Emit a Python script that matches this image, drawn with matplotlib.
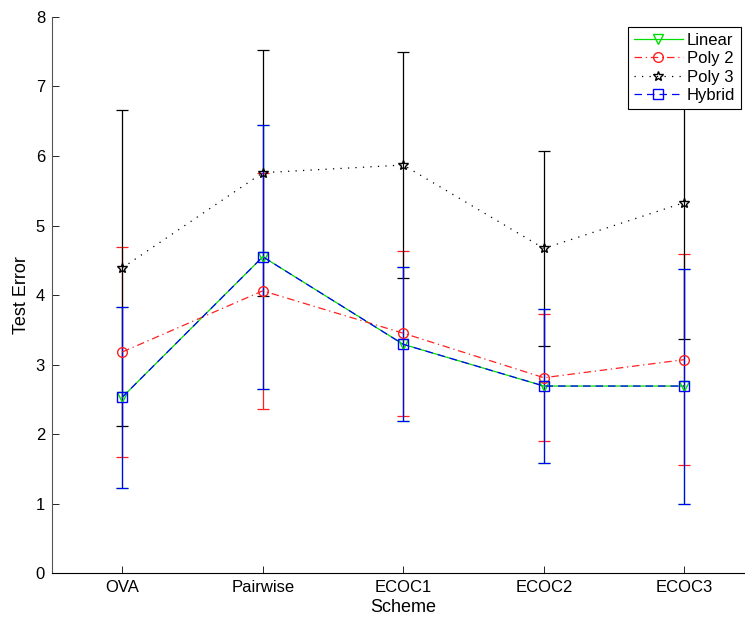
import matplotlib
matplotlib.use("Agg")
import matplotlib.pyplot as plt

plt.rcParams.update({
    "font.family": ["Liberation Sans", "DejaVu Sans"],
    "font.size": 12,
    "xtick.direction": "in", "ytick.direction": "in",
})

# Test error per coding scheme (mean and half-width of the error bar)
SCHEMES = ["OVA", "Pairwise", "ECOC1", "ECOC2", "ECOC3"]
X = [1, 2, 3, 4, 5]

linear_mean = [2.53, 4.55, 3.29, 2.69, 2.69]
linear_err  = [1.30, 1.90, 1.11, 1.11, 1.69]

poly2_mean = [3.18, 4.06, 3.45, 2.81, 3.07]
poly2_err  = [1.51, 1.70, 1.19, 0.91, 1.52]

poly3_mean = [4.39, 5.76, 5.87, 4.67, 5.33]
poly3_err  = [2.27, 1.77, 1.63, 1.40, 1.96]

hybrid_mean = [2.53, 4.55, 3.29, 2.69, 2.69]
hybrid_err  = [1.30, 1.90, 1.11, 1.11, 1.69]

fig = plt.figure(figsize=(7.45, 6.18), dpi=100)
ax = fig.add_axes([0.0698, 0.0728, 0.9432, 0.8997])

common = dict(capsize=4.3, elinewidth=0.9, linewidth=0.9, markersize=7,
              markerfacecolor="none", capthick=0.9)

series = [
    (linear_mean, linear_err, "v", "#00dd00", (None,), "Linear"),
    (poly2_mean, poly2_err, "o", "#ff2020", (6, 3, 1, 3), "Poly 2"),
    (poly3_mean, poly3_err, "*", "black", (1, 5), "Poly 3"),
    (hybrid_mean, hybrid_err, "s", "#0000ff", (6, 4), "Hybrid"),
]

handles = []
for mean, err, mk, col, dash, lab in series:
    cont = ax.errorbar(X, mean, yerr=err, fmt=mk, ls="-", color=col,
                       label=lab, **common)
    line = cont.lines[0]
    if dash[0] is not None:
        line.set_dashes(dash)
    handles.append(line)

ax.set_xlim(0.5, 5.5)
ax.set_ylim(0, 8)
ax.set_xticks(X)
ax.set_xticklabels(SCHEMES)
ax.set_yticks(range(9))
ax.set_xlabel("Scheme", fontsize=13, labelpad=3)
ax.set_ylabel("Test Error", fontsize=13, labelpad=4)
ax.tick_params(length=5, width=0.6, pad=5)

ax.spines["top"].set_visible(False)
ax.spines["right"].set_visible(False)
ax.spines["left"].set_color("#555555")

leg = ax.legend(handles, [s[-1] for s in series], loc="upper right",
                bbox_to_anchor=(0.9946, 0.9563),
                bbox_transform=fig.transFigure, fancybox=False,
                framealpha=1, edgecolor="black", handlelength=2.9,
                borderpad=0.35, labelspacing=0.2, handletextpad=0.25,
                borderaxespad=0, fontsize=12)
leg.get_frame().set_linewidth(0.8)

fig.savefig("out.png", dpi=100)
